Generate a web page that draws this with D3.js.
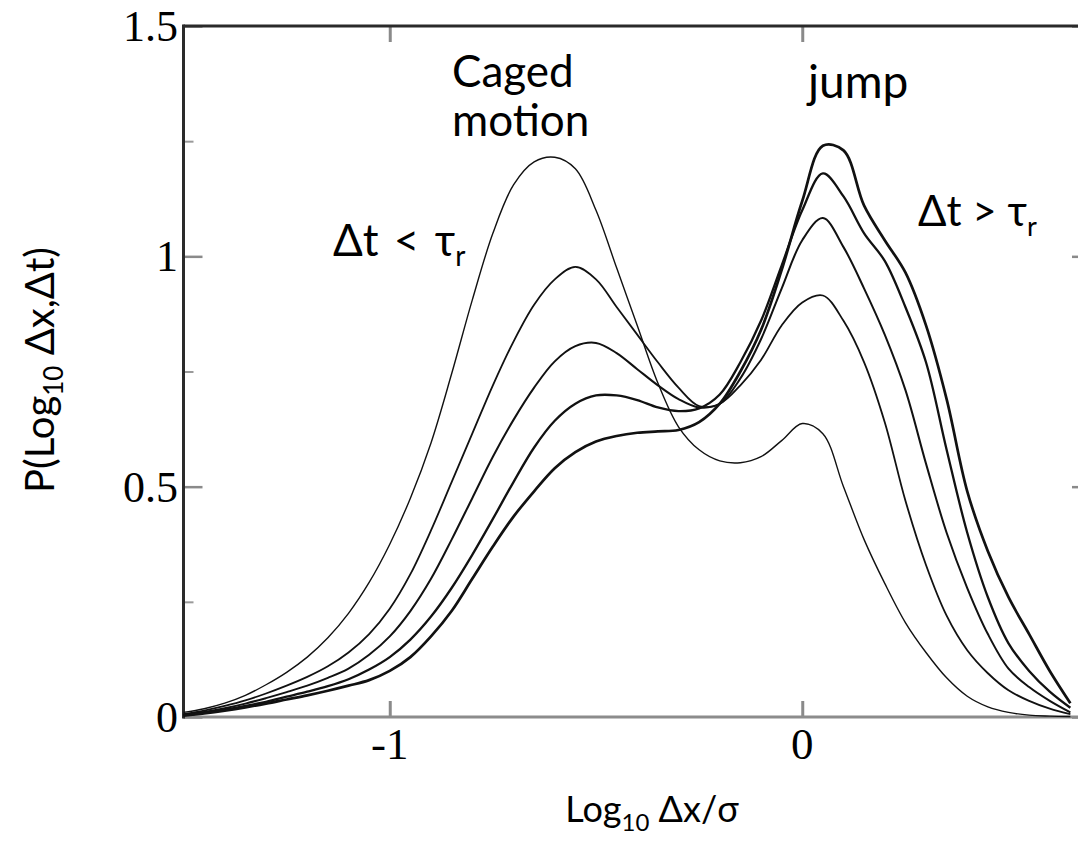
<!DOCTYPE html>
<html>
<head>
<meta charset="utf-8">
<script src="https://cdn.jsdelivr.net/npm/d3@7"></script>
<style>
  body { margin: 0; background: #fff; }
  svg { display: block; }
</style>
</head>
<body>
<svg id="chart" width="1078" height="842"></svg>
<script>
// log10 of displacement over sigma (shared abscissa of every curve)
const logDx = [-1.5, -1.45, -1.4, -1.35, -1.3, -1.25, -1.2, -1.15, -1.1, -1.05,
               -1.0, -0.95, -0.9, -0.85, -0.8, -0.75, -0.7, -0.65, -0.6, -0.55,
               -0.5, -0.45, -0.4, -0.35, -0.3, -0.25, -0.2, -0.15, -0.1, -0.05,
               0, 0.05, 0.1, 0.15, 0.2, 0.25, 0.3, 0.35, 0.4, 0.45,
               0.5, 0.55, 0.6, 0.65];

// P(log10 dx, dt) for increasing lag times dt (shortest first)
const pDt1 = [0.01, 0.018, 0.03, 0.047, 0.07, 0.097, 0.13, 0.172, 0.225, 0.292,
              0.375, 0.475, 0.595, 0.745, 0.905, 1.05, 1.155, 1.205, 1.215, 1.19,
              1.10, 0.975, 0.85, 0.725, 0.63, 0.58, 0.556, 0.552, 0.565, 0.60,
              0.637, 0.615, 0.50, 0.385, 0.29, 0.205, 0.14, 0.085, 0.045, 0.022,
              0.01, 0.004, 0.002, 0.001];
const pDt2 = [0.006, 0.014, 0.024, 0.036, 0.051, 0.068, 0.087, 0.11, 0.14, 0.18,
              0.235, 0.31, 0.405, 0.51, 0.615, 0.72, 0.815, 0.895, 0.95, 0.977,
              0.95, 0.89, 0.83, 0.77, 0.715, 0.675, 0.68, 0.72, 0.775, 0.85,
              0.90, 0.915, 0.86, 0.77, 0.64, 0.47, 0.33, 0.22, 0.145, 0.095,
              0.058, 0.035, 0.018, 0.006];
const pDt3 = [0.005, 0.011, 0.019, 0.029, 0.041, 0.054, 0.068, 0.085, 0.105, 0.135,
              0.175, 0.23, 0.30, 0.385, 0.475, 0.565, 0.645, 0.715, 0.772, 0.805,
              0.812, 0.79, 0.755, 0.72, 0.69, 0.672, 0.68, 0.735, 0.82, 0.93,
              1.035, 1.083, 1.02, 0.93, 0.83, 0.71, 0.55, 0.40, 0.28, 0.18,
              0.105, 0.065, 0.035, 0.01];
const pDt4 = [0.004, 0.009, 0.016, 0.024, 0.033, 0.044, 0.055, 0.067, 0.082, 0.103,
              0.13, 0.168, 0.218, 0.28, 0.352, 0.43, 0.51, 0.585, 0.643, 0.68,
              0.698, 0.698, 0.688, 0.672, 0.664, 0.67, 0.70, 0.77, 0.86, 0.98,
              1.10, 1.18, 1.13, 1.05, 0.99, 0.89, 0.77, 0.58, 0.40, 0.26,
              0.16, 0.10, 0.055, 0.02];
const pDt5 = [0.003, 0.008, 0.014, 0.021, 0.029, 0.038, 0.047, 0.057, 0.068, 0.08,
              0.10, 0.13, 0.175, 0.23, 0.30, 0.37, 0.435, 0.49, 0.54, 0.575,
              0.598, 0.61, 0.617, 0.62, 0.623, 0.64, 0.68, 0.75, 0.84, 0.97,
              1.12, 1.24, 1.23, 1.11, 1.035, 0.965, 0.85, 0.69, 0.49, 0.36,
              0.26, 0.18, 0.10, 0.03];

const curves = [pDt1, pDt2, pDt3, pDt4, pDt5];
const curveWidths = [1.4, 1.8, 2.0, 2.3, 2.7];

const xTickValues = [-1, 0];
const xTickLabels = ["-1", "0"];
const yTickValues = [0, 0.5, 1, 1.5];
const yTickLabels = ["0", "0.5", "1", "1.5"];
const yMinorTicks = [0.25, 0.75, 1.25];

const svg = d3.select("#chart");

const x = d3.scaleLinear().domain([-1.5, 0.7]).range([183.5, 1091]);
const y = d3.scaleLinear().domain([0, 1.5]).range([717, 26]);

const serif = "'Liberation Serif', 'DejaVu Serif', serif";
const sans = "Lato, 'Open Sans', sans-serif";

// tick marks: every side of the box gets inward ticks
function styleTicks(g, color, width) {
  g.select(".domain").remove();
  g.selectAll(".tick line").attr("stroke", color).attr("stroke-width", width);
  g.selectAll(".tick text").remove();
}

svg.append("g").attr("transform", `translate(0,${y(0)})`)
  .call(d3.axisTop(x).tickValues(xTickValues).tickSize(16))
  .call(g => styleTicks(g, "#8a8a8a", 3));
svg.append("g").attr("transform", `translate(0,${y(1.5)})`)
  .call(d3.axisBottom(x).tickValues(xTickValues).tickSize(16))
  .call(g => styleTicks(g, "#8a8a8a", 3));
svg.append("g").attr("transform", `translate(${x(-1.5)},0)`)
  .call(d3.axisRight(y).tickValues(yTickValues).tickSize(19))
  .call(g => styleTicks(g, "#8a8a8a", 2.5));
svg.append("g").attr("transform", `translate(${x(-1.5)},0)`)
  .call(d3.axisRight(y).tickValues(yMinorTicks).tickSize(10))
  .call(g => styleTicks(g, "#9a9a9a", 2));
svg.append("g").attr("transform", `translate(${x(0.7)},0)`)
  .call(d3.axisLeft(y).tickValues(yTickValues).tickSize(19))
  .call(g => styleTicks(g, "#8a8a8a", 2.5));

// frame
svg.append("line")
  .attr("x1", x(-1.5)).attr("x2", x(0.7)).attr("y1", y(0)).attr("y2", y(0))
  .attr("stroke", "#8c8c8c").attr("stroke-width", 3);
svg.append("line")
  .attr("x1", x(-1.5)).attr("x2", x(0.7)).attr("y1", y(1.5)).attr("y2", y(1.5))
  .attr("stroke", "#2a2a2a").attr("stroke-width", 3);
svg.append("line")
  .attr("x1", x(-1.5)).attr("x2", x(-1.5)).attr("y1", y(1.5) - 1.5).attr("y2", y(0) + 1.5)
  .attr("stroke", "#2a2a2a").attr("stroke-width", 3);

// distributions
const line = d3.line()
  .x((d, i) => x(logDx[i]))
  .y(d => y(d))
  .curve(d3.curveCatmullRom.alpha(0.5));

svg.append("g").selectAll("path")
  .data(curves)
  .join("path")
  .attr("d", d => line(d))
  .attr("fill", "none")
  .attr("stroke", "#111")
  .attr("stroke-width", (d, i) => curveWidths[i])
  .attr("stroke-linejoin", "round");

// tick labels
svg.append("g").selectAll("text")
  .data(xTickValues)
  .join("text")
  .attr("x", d => x(d))
  .attr("y", 759)
  .attr("text-anchor", "middle")
  .attr("font-family", serif)
  .attr("font-size", 45)
  .text((d, i) => xTickLabels[i]);

svg.append("g").selectAll("text")
  .data(yTickValues)
  .join("text")
  .attr("x", 178)
  .attr("y", d => y(d) + 15)
  .attr("text-anchor", "end")
  .attr("font-family", serif)
  .attr("font-size", 44)
  .text((d, i) => yTickLabels[i]);

// axis titles
const xTitle = svg.append("text")
  .attr("x", 652).attr("y", 822)
  .attr("text-anchor", "middle")
  .attr("font-family", sans).attr("font-size", 36);
xTitle.append("tspan").text("Log");
xTitle.append("tspan").attr("font-size", 24).attr("dy", 9).text("10");
xTitle.append("tspan").attr("dy", -9).text(" Δx/σ");

const yTitle = svg.append("text")
  .attr("transform", "translate(54,370) rotate(-90)")
  .attr("text-anchor", "middle")
  .attr("font-family", sans).attr("font-size", 40);
yTitle.append("tspan").text("P(Log");
yTitle.append("tspan").attr("font-size", 26).attr("dy", 9).text("10");
yTitle.append("tspan").attr("dy", -9).text(" Δx,Δt)");

// annotations
const ann = svg.append("g").attr("font-family", sans).attr("fill", "#000");
ann.append("text").attr("x", 452).attr("y", 87).attr("font-size", 44).text("Caged");
ann.append("text").attr("x", 452).attr("y", 136).attr("font-size", 44).text("motion");
ann.append("text").attr("x", 808).attr("y", 98).attr("font-size", 46).text("jump");

const lt = ann.append("text").attr("x", 333).attr("y", 256)
  .attr("font-size", 44).attr("word-spacing", 4);
lt.append("tspan").text("Δt < τ");
lt.append("tspan").attr("font-size", 28).attr("dy", 10).text("r");

const gt = ann.append("text").attr("x", 918).attr("y", 226).attr("font-size", 42);
gt.append("tspan").text("Δt > τ");
gt.append("tspan").attr("font-size", 27).attr("dy", 10).text("r");
</script>
</body>
</html>
